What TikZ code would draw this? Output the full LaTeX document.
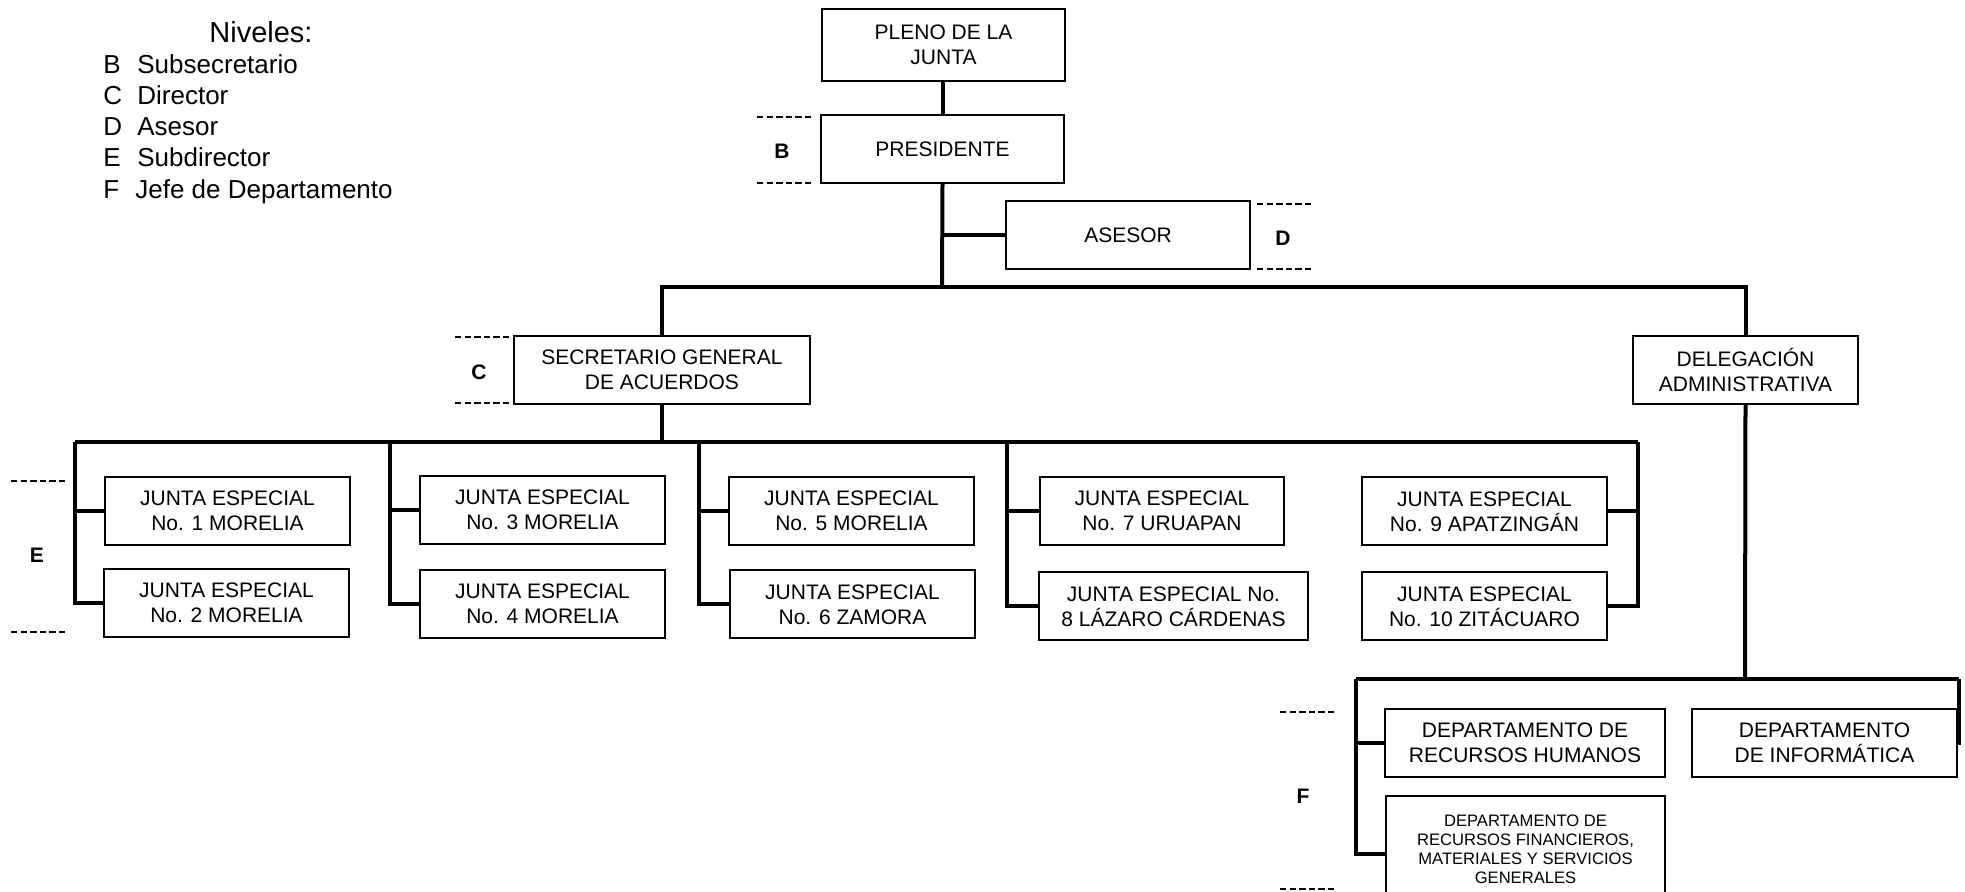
\documentclass[tikz,border=0pt]{standalone}
\usepackage{fontspec}
\setmainfont{Liberation Sans}
\begin{document}
\begin{tikzpicture}[x=0.5pt,y=-0.5pt,
  box/.style={draw, line width=1pt, align=center, inner sep=0pt,
    font=\fontsize{10.5}{12.5}\selectfont, minimum height=34pt},
  conn/.style={line width=2pt},
  lvl/.style={font=\fontsize{10.5}{12}\selectfont\bfseries, inner sep=0pt},
  dsh/.style={line width=0.8pt, dash pattern=on 3.2pt off 1.6pt},
  leg/.style={font=\fontsize{13}{15}\selectfont, anchor=base west, inner sep=0pt}]
\clip (0,0) rectangle (1965,892);
\fill[white] (0,0) rectangle (1965,892);

% legend
\node[font=\fontsize{14.5}{16}\selectfont, inner sep=0pt, anchor=base] (niv) at (261,43) {Niveles:};
\node[leg] (lb) at (103,74) {\makebox[17pt][l]{B}Subsecretario};
\node[leg] (lc) at (103,105) {\makebox[17pt][l]{C}Director};
\node[leg] (ld) at (103,136) {\makebox[17pt][l]{D}Asesor};
\node[leg] (le) at (103,167) {\makebox[17pt][l]{E}Subdirector};
\node[leg] (lf) at (103,198.5) {\makebox[16pt][l]{F}Jefe de Departamento};

% boxes
\node[box, minimum width=121.5pt, minimum height=36pt] (pleno) at (943.5,45) {PLENO DE LA\\JUNTA};
\node[box, minimum width=121.5pt] (pres) at (942.5,149) {PRESIDENTE};
\node[box, minimum width=122pt] (ase) at (1128,235) {ASESOR};
\node[box, minimum width=148pt] (sec) at (662,370) {SECRETARIO GENERAL\\DE ACUERDOS};
\node[box, minimum width=112.5pt] (del) at (1745.5,370) {DELEGACIÓN\\ADMINISTRATIVA};

\node[box, minimum width=122.5pt] (j1) at (227.5,511) {JUNTA ESPECIAL\\No. 1 MORELIA};
\node[box, minimum width=122.5pt] (j2) at (226.5,603) {JUNTA ESPECIAL\\No. 2 MORELIA};
\node[box, minimum width=122.5pt] (j3) at (542.5,510) {JUNTA ESPECIAL\\No. 3 MORELIA};
\node[box, minimum width=122.5pt] (j4) at (542.5,604) {JUNTA ESPECIAL\\No. 4 MORELIA};
\node[box, minimum width=122.5pt] (j5) at (851.5,511) {JUNTA ESPECIAL\\No. 5 MORELIA};
\node[box, minimum width=122.5pt] (j6) at (852.5,604.5) {JUNTA ESPECIAL\\No. 6 ZAMORA};
\node[box, minimum width=122pt] (j7) at (1162,511) {JUNTA ESPECIAL\\No. 7 URUAPAN};
\node[box, minimum width=134.5pt] (j8) at (1173.5,606.5) {JUNTA ESPECIAL No.\\8 LÁZARO CÁRDENAS};
\node[box, minimum width=122.5pt] (j9) at (1484.5,511.5) {JUNTA ESPECIAL\\No. 9 APATZINGÁN};
\node[box, minimum width=122.5pt] (j10) at (1484.5,606.5) {JUNTA ESPECIAL\\No. 10 ZITÁCUARO};

\node[box, minimum width=140pt] (rh) at (1525,742.5) {DEPARTAMENTO DE\\RECURSOS HUMANOS};
\node[box, minimum width=132.5pt] (inf) at (1824.5,743) {DEPARTAMENTO\\DE INFORMÁTICA};
\node[box, minimum width=139.5pt, minimum height=53pt,
      font=\fontsize{8.3}{9.5}\selectfont] (rf) at (1525.5,849)
  {DEPARTAMENTO DE\\RECURSOS FINANCIEROS,\\MATERIALES Y SERVICIOS\\GENERALES};

% connectors
\coordinate (t1) at (942,287);
\coordinate (b1) at (75,442);
\coordinate (b2) at (390,442);
\coordinate (b3) at (699,442);
\coordinate (b4) at (1007,442);
\coordinate (b5) at (1638,442);
\coordinate (d1) at (1745,679);
\coordinate (dl) at (1356,679);
\coordinate (dr) at (1959,679);

\draw[conn] (pres.north |- pleno.south) -- (pres.north);
\draw[conn] (pres.south) -- (t1);
\draw[conn] (pres.south |- ase.west) -- (ase.west);
\draw[conn] (sec.north) |- (t1) -| (del.north);
\draw[conn] (sec.south) -- (sec.south |- b1);
\draw[conn] (b1) -- (b5);
\draw[conn] (b1) |- (j2.west);
\draw[conn] (b1 |- j1.west) -- (j1.west);
\draw[conn] (b2) |- (j4.west);
\draw[conn] (b2 |- j3.west) -- (j3.west);
\draw[conn] (b3) |- (j6.west);
\draw[conn] (b3 |- j5.west) -- (j5.west);
\draw[conn] (b4) |- (j8.west);
\draw[conn] (b4 |- j7.west) -- (j7.west);
\draw[conn] (b5) |- (j10.east);
\draw[conn] (b5 |- j9.east) -- (j9.east);
\draw[conn] (del.south) -- (d1);
\draw[conn] (dl) -- (dr);
\draw[conn] (dl) |- ([yshift=-2.5pt]rf.west);
\draw[conn] (dl |- rh.west) -- (rh.west);
\draw[conn] (dr) |- (inf.east);

% level markers
\node[lvl] (lvB) at (782,151) {B};
\draw[dsh] (757,117) -- (812,117);
\draw[dsh] (757,183) -- (812,183);
\node[lvl] (lvD) at (1283,238) {D};
\draw[dsh] (1257,204) -- (1312,204);
\draw[dsh] (1257,269) -- (1312,269);
\node[lvl] (lvC) at (479,372) {C};
\draw[dsh] (455,337) -- (509,337);
\draw[dsh] (455,403) -- (509,403);
\node[lvl] (lvE) at (37,555) {E};
\draw[dsh] (11,481) -- (67,481);
\draw[dsh] (11,632) -- (67,632);
\node[lvl] (lvF) at (1303,796) {F};
\draw[dsh] (1280,712) -- (1334,712);
\draw[dsh] (1280,889) -- (1334,889);
\end{tikzpicture}
\end{document}
